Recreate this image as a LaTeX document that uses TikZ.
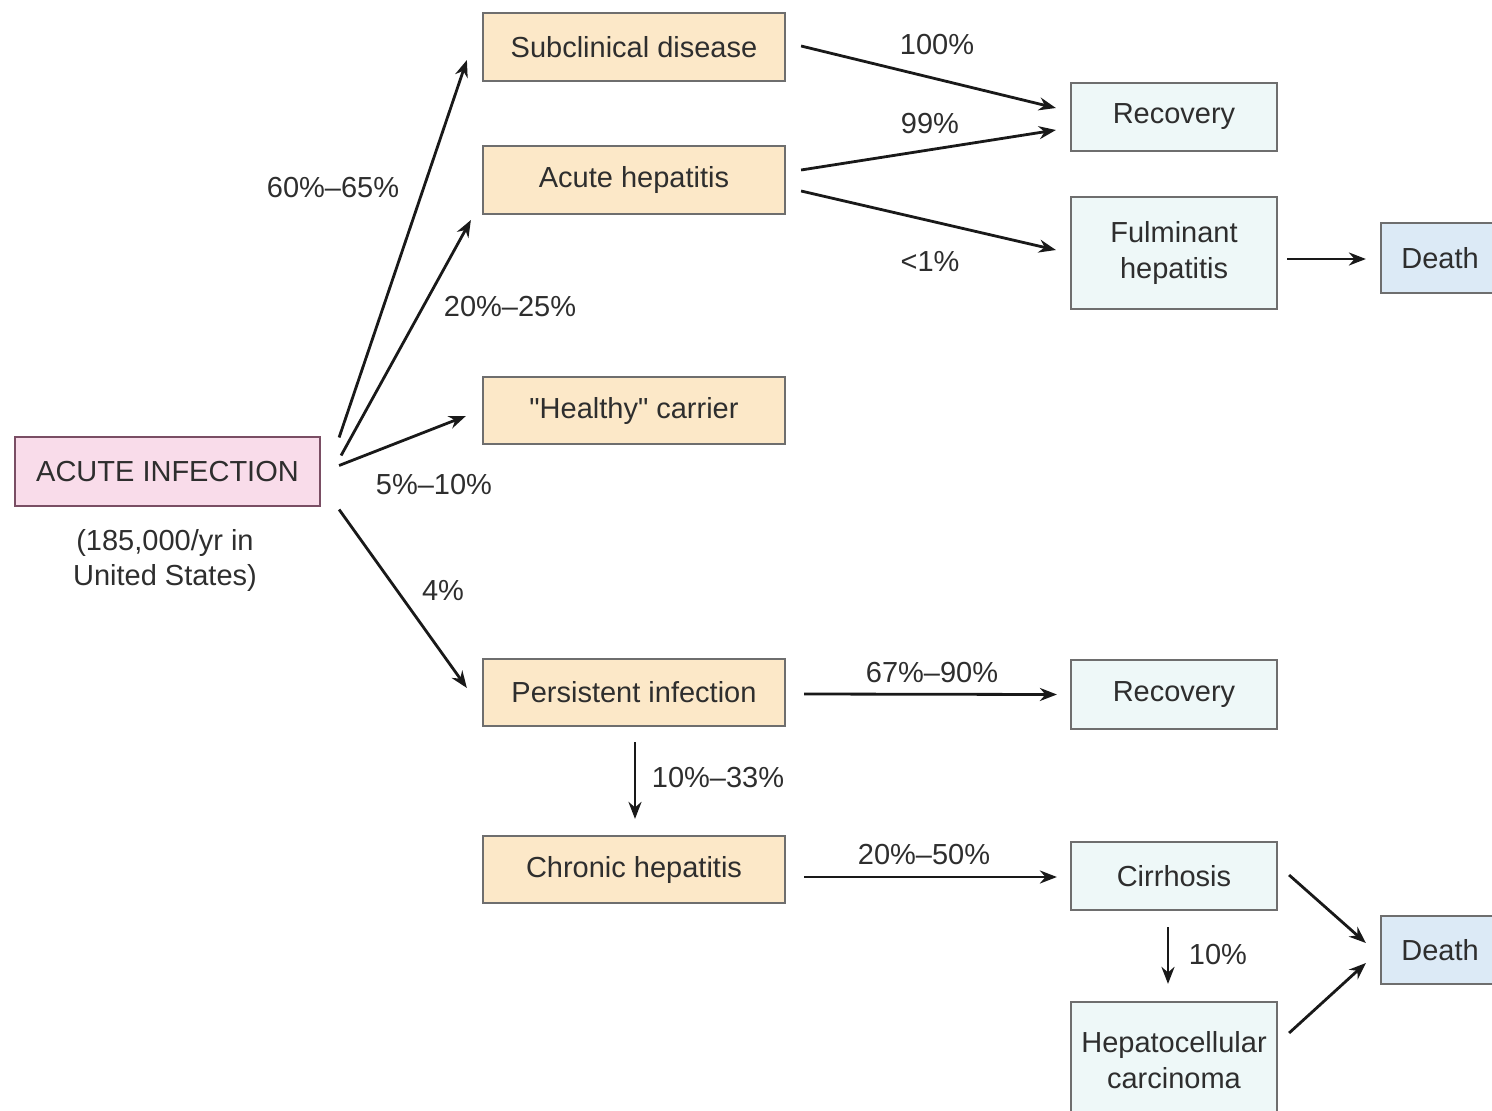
\documentclass[tikz,border=0pt]{standalone}
\usepackage{fontspec}
\setmainfont{Liberation Sans}
\usetikzlibrary{arrows.meta,calc}
\definecolor{pinkfill}{HTML}{F9DCEA}
\definecolor{pinkdraw}{HTML}{7A4E64}
\definecolor{beigefill}{HTML}{FCE8C8}
\definecolor{cyanfill}{HTML}{EEF8F8}
\definecolor{bluefill}{HTML}{DCEAF6}
\definecolor{boxdraw}{HTML}{6E6E6E}
\definecolor{txt}{HTML}{2E2E2E}
\newcommand\straightquote{\XeTeXglyph\XeTeXcharglyph"22\relax}
\tikzset{
  base/.style={draw=boxdraw, line width=2.2pt, text=txt, align=center, inner sep=0pt,
    font=\fontsize{29}{36}\selectfont},
  pinkbox/.style={base, fill=pinkfill, draw=pinkdraw, minimum width=305pt, minimum height=69pt},
  beigebox/.style={base, fill=beigefill, minimum width=302pt, minimum height=68pt},
  cyanbox/.style={base, fill=cyanfill, minimum width=206pt},
  bluebox/.style={base, fill=bluefill, minimum width=118pt},
  lbl/.style={text=txt, inner sep=0pt, font=\fontsize{29}{35}\selectfont, align=center},
  arr/.style={draw=black!90, line width=2.8pt, -{Stealth[length=17pt,width=13pt]}},
}
\begin{document}
\begin{tikzpicture}[x=1pt,y=-1pt]
\useasboundingbox[fill=white] (0,0) rectangle (1492,1111);

% nodes
\node[pinkbox] (acute) at (167.5,471.5) {ACUTE INFECTION};
\node[lbl] (note) at (165,560) {(185,000/yr in\\United States)};

\node[beigebox] (sub) at (634,47) {Subclinical disease};
\node[beigebox] (ahep) at (634,180) {Acute hepatitis};
\node[beigebox, minimum height=67pt] (carrier) at (634,410.5) {\straightquote Healthy\straightquote{} carrier};
\node[beigebox, minimum height=67pt] (pers) at (634,692.5) {Persistent infection};
\node[beigebox, minimum height=67pt] (chron) at (634,869.5) {Chronic hepatitis};

\node[cyanbox, minimum height=68pt] (rec1) at (1174,117) {Recovery};
\node[cyanbox, minimum height=112pt] (fulm) at (1174,253) {Fulminant\\hepatitis};
\node[bluebox, minimum height=70pt] (death1) at (1440,258) {Death};
\node[cyanbox, minimum height=69pt] (rec2) at (1174,694.5) {Recovery};
\node[cyanbox, minimum height=68pt] (cirr) at (1174,876) {Cirrhosis};
\node[bluebox, minimum height=68pt] (death2) at (1440,950) {Death};
\node[cyanbox, minimum height=116pt] (hcc) at (1174,1060) {Hepatocellular\\carcinoma};

% connectors from ACUTE INFECTION
\draw[arr] ($(acute.east)+(18,-34)$) -- ($(sub.west)+(-15,13)$);
\draw[arr] ($(acute.east)+(20,-16)$) -- ($(ahep.west)+(-11,40)$);
\draw[arr] ($(acute.east)+(18,-6)$) -- ($(carrier.west)+(-16,5.5)$);
\draw[arr] ($(acute.east)+(18,38)$) -- ($(pers.west)+(-15,-4.5)$);

% upper branch
\draw[arr] ($(sub.east)+(15,-1)$) -- ($(rec1.west)+(-14,-9)$);
\draw[arr] ($(ahep.east)+(15,-10)$) -- ($(rec1.west)+(-14,13)$);
\draw[arr] ($(ahep.east)+(15,11)$) -- ($(fulm.west)+(-14,-3)$);
\draw[arr] ($(fulm.east)+(9,6)$) -- ($(death1.west)+(-14,1)$);

% lower branch
\draw[arr] ($(pers.east)+(18,1.5)$) -- ($(rec2.west)+(-13,0)$);
\draw[arr] ($(pers.south)+(1,15)$) -- ($(chron.north)+(1,-16)$);
\draw[arr] ($(chron.east)+(18,7.5)$) -- ($(cirr.west)+(-13,1)$);
\draw[arr] ($(cirr.south)+(-6,16)$) -- ($(hcc.north)+(-6,-17)$);
\draw[arr] ($(cirr.east)+(11,-1)$) -- ($(death2.west)+(-14,-7)$);
\draw[arr] ($(hcc.east)+(11,-27)$) -- ($(death2.west)+(-14,13)$);

% labels
\node[lbl] (l1) at (333,188) {60\%–65\%};
\node[lbl] (l2) at (510,307) {20\%–25\%};
\node[lbl] (l3) at (434,485) {5\%–10\%};
\node[lbl] (l4) at (443,591) {4\%};
\node[lbl] (l5) at (937,45) {100\%};
\node[lbl] (l6) at (930,124) {99\%};
\node[lbl] (l7) at (930,262) {<1\%};
\node[lbl] (l8) at (932,673) {67\%–90\%};
\node[lbl] (l9) at (718,778) {10\%–33\%};
\node[lbl] (l10) at (924,855) {20\%–50\%};
\node[lbl] (l11) at (1218,955) {10\%};
\end{tikzpicture}
\end{document}
